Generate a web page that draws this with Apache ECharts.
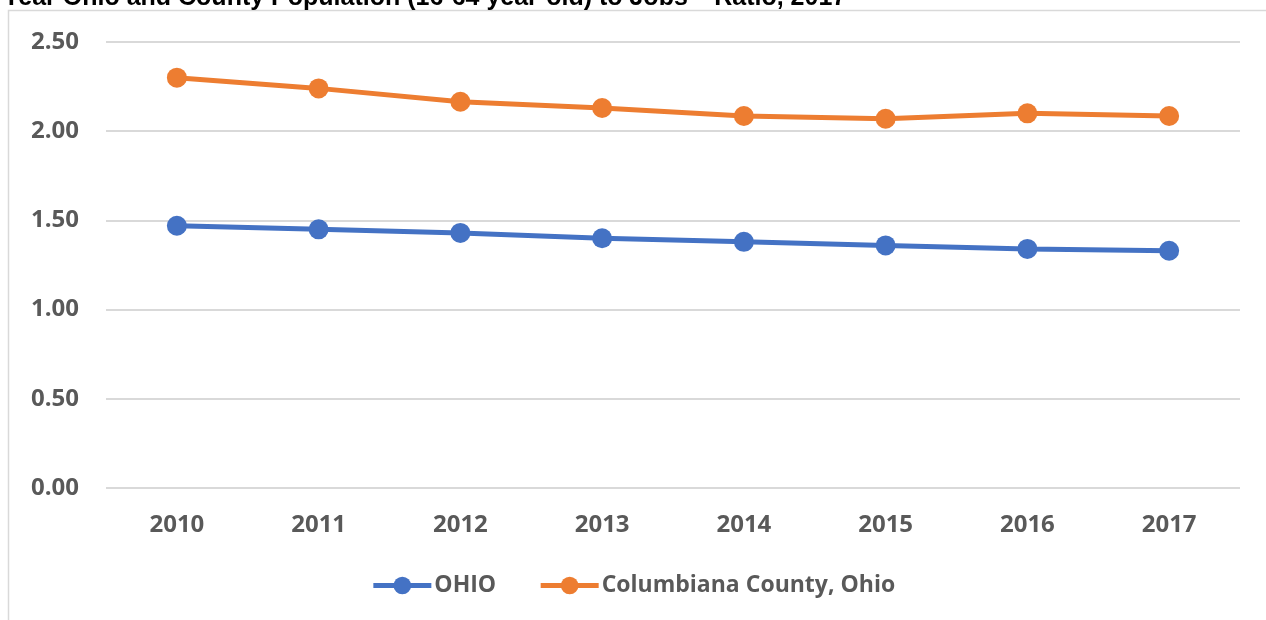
<!DOCTYPE html>
<html>
<head>
<meta charset="utf-8">
<script src="https://cdn.jsdelivr.net/npm/echarts@6/dist/echarts.min.js"></script>
<style>
    html, body { margin: 0; padding: 0; background: #fff; }
    #chart { width: 1266px; height: 620px; }
</style>
</head>
<body>
<div id="chart"></div>
<script>
    // values
    var years = ['2010', '2011', '2012', '2013', '2014', '2015', '2016', '2017'];
    var ohio = [1.47, 1.45, 1.43, 1.40, 1.38, 1.36, 1.34, 1.33];
    var columbiana = [2.30, 2.24, 2.165, 2.13, 2.085, 2.07, 2.10, 2.085];
    var seriesNames = ['OHIO', 'Columbiana County, Ohio'];
    var colors = ['#4472C4', '#ED7D31'];

    var font = '"Open Sans", "DejaVu Sans", sans-serif';

    var chart = echarts.init(document.getElementById('chart'));
    chart.setOption({
        animation: false,
        color: colors,
        title: {
            text: 'Year Ohio and County Population (16-64 year-old) to Jobs** Ratio, 2017',
            left: -2,
            top: -19,
            textStyle: { fontFamily: '"Liberation Sans", Arial, sans-serif', fontWeight: 'bold', fontSize: 25, color: '#000' }
        },
        graphic: [{
            type: 'rect',
            shape: { x: 8.5, y: 10.5, width: 1300, height: 700 },
            style: { fill: 'none', stroke: '#D9D9D9', lineWidth: 1.5 },
            z: -1
        }],
        grid: { left: 106, right: 26, top: 42, bottom: 132 },
        legend: {
            data: seriesNames,
            bottom: 18,
            left: 'center',
            itemWidth: 58,
            itemHeight: 22,
            itemGap: 42,
            lineStyle: { width: 5 },
            textStyle: { fontFamily: font, fontWeight: 'bold', fontSize: 23, color: '#595959', padding: [0, 0, 0, -2] }
        },
        xAxis: {
            type: 'category',
            data: years,
            boundaryGap: true,
            axisLine: { show: false },
            axisTick: { show: false },
            axisLabel: { margin: 25, fontFamily: font, fontWeight: 'bold', fontSize: 24, color: '#595959' }
        },
        yAxis: {
            type: 'value',
            min: 0,
            max: 2.5,
            interval: 0.5,
            axisLine: { show: false },
            axisTick: { show: false },
            splitLine: { lineStyle: { color: '#D9D9D9', width: 2 } },
            axisLabel: {
                margin: 27,
                fontFamily: font, fontWeight: 'bold', fontSize: 24, color: '#595959',
                formatter: function (v) { return v.toFixed(2); }
            }
        },
        series: [
            {
                name: seriesNames[0],
                type: 'line',
                data: ohio,
                symbol: 'circle',
                symbolSize: 20,
                lineStyle: { width: 5 }
            },
            {
                name: seriesNames[1],
                type: 'line',
                data: columbiana,
                symbol: 'circle',
                symbolSize: 20,
                lineStyle: { width: 5 }
            }
        ]
    });
</script>
</body>
</html>
